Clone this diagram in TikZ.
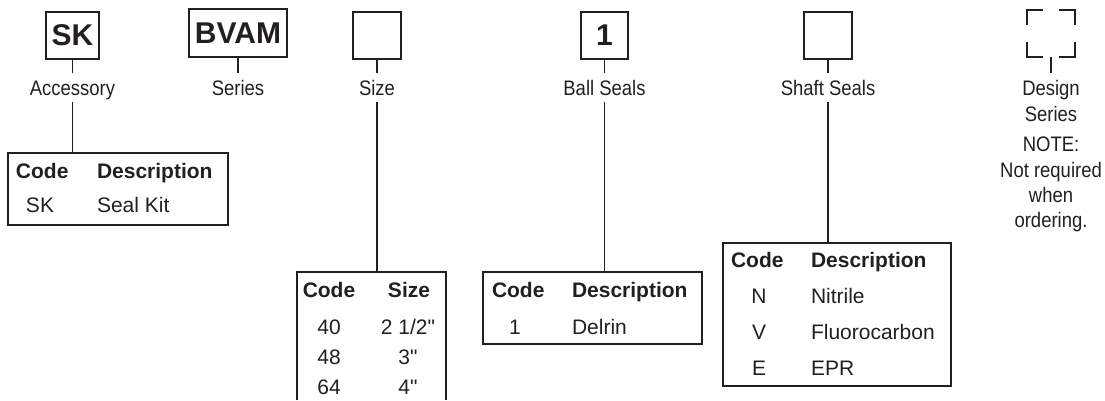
\documentclass[tikz,border=0pt]{standalone}
\usepackage{fontspec}
\setmainfont{Liberation Sans}
\newfontfamily\condfont[FakeStretch=0.88]{Liberation Sans}
\newfontfamily\tabfont{Liberation Sans}
\definecolor{ink}{HTML}{231F20}
\begin{document}
\begin{tikzpicture}[x=1pt,y=-1pt,
  every node/.style={inner sep=0pt, outer sep=0pt, text=ink},
  codebox/.style={draw=ink, line width=1.6pt, minimum width=#1, minimum height=47pt,
    font=\fontsize{30}{30}\selectfont\bfseries},
  lbl/.style={font=\condfont\fontsize{21}{25}\selectfont, text height=15pt, text depth=4pt, anchor=base},
  stem/.style={draw=ink, line width=1.3pt},
  corner/.style={draw=ink, line width=1.6pt},
  tbl/.style={draw=ink, line width=1.6pt},
  th/.style={font=\tabfont\fontsize{21}{25}\selectfont\bfseries, anchor=base west},
  td/.style={font=\tabfont\fontsize{21}{25}\selectfont, anchor=base west},
]
\useasboundingbox (0,0) rectangle (1105,400);

% code boxes
\node[codebox=53pt] (sk) at (72.5,35.5) {SK};
\node[codebox=98pt, minimum height=48pt] (bvam) at (238,33) {BVAM};
\node[codebox=48pt] (size) at (377,35.5) {};
\node[codebox=47pt] (ball) at (604.5,35.5) {1};
\node[codebox=48pt] (shaft) at (828,35.5) {};
\node[minimum width=48pt, minimum height=47pt] (ds) at (1051,33.5) {};

% bracket corners of the design series box
\draw[corner] ([yshift=-15pt]ds.north west) -- (ds.north west) -- ([xshift=16pt]ds.north west);
\draw[corner] ([yshift=-15pt]ds.north east) -- (ds.north east) -- ([xshift=-16pt]ds.north east);
\draw[corner] ([yshift=15pt]ds.south west) -- (ds.south west) -- ([xshift=16pt]ds.south west);
\draw[corner] ([yshift=15pt]ds.south east) -- (ds.south east) -- ([xshift=-16pt]ds.south east);

% labels
\node[lbl] (accl) at (72.5,95) {Accessory};
\node[lbl] (serl) at (238,95) {Series};
\node[lbl] (sizel) at (377,95) {Size};
\node[lbl] (balll) at (604.5,95) {Ball Seals};
\node[lbl] (shaftl) at (828,95) {Shaft Seals};
\node[lbl] (dsl) at (1051,95) {Design};
\node[lbl] (dsl2) at (1051,121) {Series};
\node[lbl] (note1) at (1051,151) {NOTE:};
\node[lbl] (note2) at (1051,177) {Not required};
\node[lbl] (note3) at (1051,202) {when};
\node[lbl] (note4) at (1051,227) {ordering.};

% upper stems
\draw[stem] (sk.south) -- ([yshift=7pt]accl.north);
\draw[stem] (bvam.south) -- ([yshift=7pt]serl.north);
\draw[stem] (size.south) -- ([yshift=7pt]sizel.north);
\draw[stem] (ball.south) -- ([yshift=7pt]balll.north);
\draw[stem] (shaft.south) -- ([yshift=7pt]shaftl.north);
\draw[stem] (ds.south) -- ([yshift=7pt]dsl.north);

% tables
\node[tbl, minimum width=220pt, minimum height=72pt] (t1) at (118,189) {};
\node[minimum width=149pt, minimum height=128pt] (ts) at (371.5,336) {};
\draw[tbl] (ts.south west) -- (ts.north west) -- (ts.north east) -- (ts.south east);
\node[tbl, minimum width=219pt, minimum height=72pt] (tb) at (592.5,308) {};
\node[tbl, minimum width=228pt, minimum height=143pt] (tsh) at (837,314.5) {};

% lower stems
\draw[stem] ([yshift=-3pt]accl.south) -- (accl.south |- t1.north);
\draw[stem] ([yshift=-3pt]sizel.south) -- (sizel.south |- ts.north);
\draw[stem] ([yshift=-3pt]balll.south) -- (balll.south |- tb.north);
\draw[stem] ([yshift=-3pt]shaftl.south) -- (shaftl.south |- tsh.north);

% accessory table text
\node[th] (t1c) at (16,178.5) {Code};
\node[th] (t1d) at (97,178.5) {Description};
\node[td, anchor=base] (t1r1c) at (40,212.5) {SK};
\node[td] (t1r1d) at (97,212.5) {Seal Kit};

% size table text
\node[th, anchor=base] (tsc) at (329,297.5) {Code};
\node[th, anchor=base] (tss) at (409,297.5) {Size};
\node[td, anchor=base] (tsr1c) at (329,334.5) {40};
\node[td, anchor=base] (tsr1s) at (408,334.5) {2 1/2"};
\node[td, anchor=base] (tsr2c) at (329,364.5) {48};
\node[td, anchor=base] (tsr2s) at (408,364.5) {3"};
\node[td, anchor=base] (tsr3c) at (329,394.5) {64};
\node[td, anchor=base] (tsr3s) at (408,394.5) {4"};

% ball seal table text
\node[th] (tbc) at (492,297.5) {Code};
\node[th] (tbd) at (572,297.5) {Description};
\node[td, anchor=base] (tbr1c) at (515,334.5) {1};
\node[td] (tbr1d) at (572,334.5) {Delrin};

% shaft seal table text
\node[th] (tshc) at (731,267.5) {Code};
\node[th] (tshd) at (811,267.5) {Description};
\node[td, anchor=base] (tshr1c) at (759,303.5) {N};
\node[td] (tshr1d) at (811,303.5) {Nitrile};
\node[td, anchor=base] (tshr2c) at (759,339.5) {V};
\node[td] (tshr2d) at (811,339.5) {Fluorocarbon};
\node[td, anchor=base] (tshr3c) at (759,375.5) {E};
\node[td] (tshr3d) at (811,375.5) {EPR};
\end{tikzpicture}
\end{document}
